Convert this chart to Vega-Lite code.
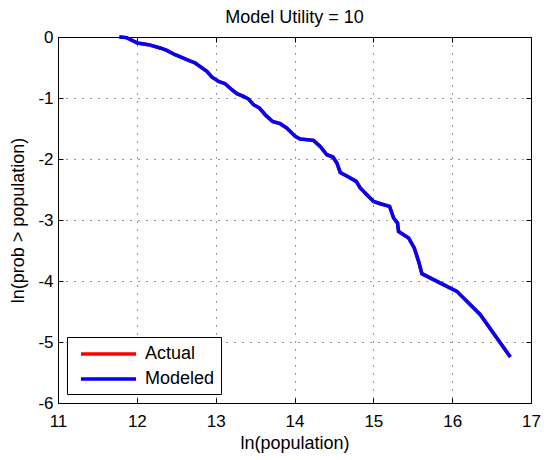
{
  "$schema": "https://vega.github.io/schema/vega-lite/v6.json",
  "width": 473,
  "height": 366,
  "autosize": "none",
  "padding": {"left": 58, "top": 37, "right": 13, "bottom": 57},
  "background": "white",
  "title": {"text": "Model Utility = 10", "fontSize": 18, "font": "Liberation Sans", "fontWeight": "normal", "color": "black", "offset": 1},
  "config": {
    "view": {"stroke": "black", "strokeWidth": 1},
    "axis": {
      "labelFont": "Liberation Sans", "labelFontSize": 17, "labelColor": "black",
      "titleFont": "Liberation Sans", "titleFontSize": 18, "titleFontWeight": "normal", "titleColor": "black",
      "tickColor": "black", "tickSize": -5, "domainColor": "black",
      "gridColor": "black", "gridDash": [1, 7], "gridOpacity": 0.8, "labelFlush": false, "labelOverlap": false
    }
  },
  "data": {"values": [
    {"lnpop": 11.779, "Actual": 0.0, "Modeled": 0.0},
    {"lnpop": 11.87, "Actual": -0.01, "Modeled": -0.01},
    {"lnpop": 12.008, "Actual": -0.099, "Modeled": -0.099},
    {"lnpop": 12.147, "Actual": -0.126, "Modeled": -0.126},
    {"lnpop": 12.296, "Actual": -0.18, "Modeled": -0.18},
    {"lnpop": 12.38, "Actual": -0.22, "Modeled": -0.22},
    {"lnpop": 12.486, "Actual": -0.29, "Modeled": -0.29},
    {"lnpop": 12.634, "Actual": -0.372, "Modeled": -0.372},
    {"lnpop": 12.74, "Actual": -0.426, "Modeled": -0.426},
    {"lnpop": 12.888, "Actual": -0.563, "Modeled": -0.563},
    {"lnpop": 12.951, "Actual": -0.656, "Modeled": -0.656},
    {"lnpop": 13.036, "Actual": -0.727, "Modeled": -0.727},
    {"lnpop": 13.12, "Actual": -0.765, "Modeled": -0.765},
    {"lnpop": 13.205, "Actual": -0.864, "Modeled": -0.864},
    {"lnpop": 13.27, "Actual": -0.93, "Modeled": -0.93},
    {"lnpop": 13.353, "Actual": -0.974, "Modeled": -0.974},
    {"lnpop": 13.417, "Actual": -1.017, "Modeled": -1.017},
    {"lnpop": 13.48, "Actual": -1.11, "Modeled": -1.11},
    {"lnpop": 13.556, "Actual": -1.164, "Modeled": -1.164},
    {"lnpop": 13.628, "Actual": -1.274, "Modeled": -1.274},
    {"lnpop": 13.72, "Actual": -1.383, "Modeled": -1.383},
    {"lnpop": 13.818, "Actual": -1.421, "Modeled": -1.421},
    {"lnpop": 13.902, "Actual": -1.492, "Modeled": -1.492},
    {"lnpop": 14.009, "Actual": -1.63, "Modeled": -1.63},
    {"lnpop": 14.072, "Actual": -1.672, "Modeled": -1.672},
    {"lnpop": 14.241, "Actual": -1.694, "Modeled": -1.694},
    {"lnpop": 14.326, "Actual": -1.793, "Modeled": -1.793},
    {"lnpop": 14.41, "Actual": -1.93, "Modeled": -1.93},
    {"lnpop": 14.487, "Actual": -1.968, "Modeled": -1.968},
    {"lnpop": 14.538, "Actual": -2.066, "Modeled": -2.066},
    {"lnpop": 14.58, "Actual": -2.22, "Modeled": -2.22},
    {"lnpop": 14.686, "Actual": -2.295, "Modeled": -2.295},
    {"lnpop": 14.783, "Actual": -2.367, "Modeled": -2.367},
    {"lnpop": 14.834, "Actual": -2.475, "Modeled": -2.475},
    {"lnpop": 14.918, "Actual": -2.585, "Modeled": -2.585},
    {"lnpop": 15.003, "Actual": -2.695, "Modeled": -2.695},
    {"lnpop": 15.088, "Actual": -2.733, "Modeled": -2.733},
    {"lnpop": 15.206, "Actual": -2.777, "Modeled": -2.777},
    {"lnpop": 15.257, "Actual": -2.967, "Modeled": -2.967},
    {"lnpop": 15.307, "Actual": -3.05, "Modeled": -3.05},
    {"lnpop": 15.32, "Actual": -3.187, "Modeled": -3.187},
    {"lnpop": 15.447, "Actual": -3.295, "Modeled": -3.295},
    {"lnpop": 15.519, "Actual": -3.459, "Modeled": -3.459},
    {"lnpop": 15.574, "Actual": -3.678, "Modeled": -3.678},
    {"lnpop": 15.616, "Actual": -3.88, "Modeled": -3.88},
    {"lnpop": 15.807, "Actual": -4.006, "Modeled": -4.006},
    {"lnpop": 16.06, "Actual": -4.17, "Modeled": -4.17},
    {"lnpop": 16.357, "Actual": -4.552, "Modeled": -4.552},
    {"lnpop": 16.738, "Actual": -5.246, "Modeled": -5.246}
  ]},
  "transform": [{"fold": ["Actual", "Modeled"], "as": ["series", "lnprob"]}],
  "layer": [
    {
      "mark": {"type": "line", "strokeWidth": 3.5},
      "encoding": {
        "x": {"field": "lnpop", "type": "quantitative",
          "scale": {"domain": [11, 17], "nice": false, "zero": false},
          "axis": {"title": "ln(population)", "values": [11, 12, 13, 14, 15, 16, 17], "grid": true, "labelPadding": 15, "titlePadding": 5}},
        "y": {"field": "lnprob", "type": "quantitative",
          "scale": {"domain": [-6, 0], "nice": false, "zero": false},
          "axis": {"title": "ln(prob > population)", "values": [-6, -5, -4, -3, -2, -1, 0], "grid": true, "labelPadding": 10, "titlePadding": 10, "labelExpr": "'' + datum.value"}},
        "color": {"field": "series", "type": "nominal",
          "scale": {"domain": ["Actual", "Modeled"], "range": ["#ff0000", "#0000ff"]},
          "legend": {"orient": "bottom-left", "offset": 9, "title": null, "symbolType": "M-0.333,0H5.778", "symbolSize": 324, "symbolStrokeWidth": 3.5,
            "labelFont": "Liberation Sans", "labelFontSize": 18, "labelColor": "black", "labelOffset": 50,
            "strokeColor": "black", "fillColor": "white", "padding": 6, "rowPadding": 5, "cornerRadius": 0}}
      }
    },
    {
      "mark": {"type": "line", "opacity": 0},
      "encoding": {
        "x": {"field": "lnpop", "type": "quantitative",
          "scale": {"domain": [11, 17], "nice": false, "zero": false},
          "axis": {"orient": "top", "title": null, "labels": false, "grid": false, "domain": false, "values": [11, 12, 13, 14, 15, 16, 17]}},
        "y": {"field": "lnprob", "type": "quantitative",
          "scale": {"domain": [-6, 0], "nice": false, "zero": false},
          "axis": {"orient": "right", "title": null, "labels": false, "grid": false, "domain": false, "values": [-6, -5, -4, -3, -2, -1, 0]}}
      }
    }
  ],
  "resolve": {"axis": {"x": "independent", "y": "independent"}}
}
